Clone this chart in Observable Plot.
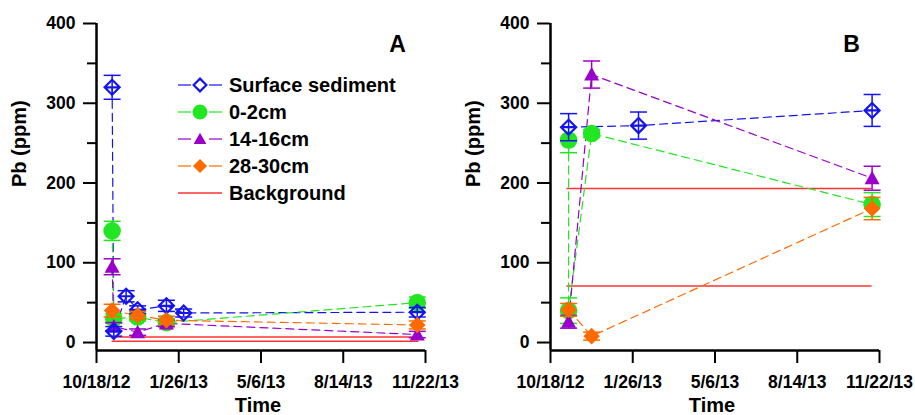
<!DOCTYPE html>
<html><head><meta charset="utf-8">
<script src="https://cdn.jsdelivr.net/npm/d3@7"></script>
<script src="https://cdn.jsdelivr.net/npm/@observablehq/plot@0.6"></script>
<style>
html,body{margin:0;padding:0;background:#fff;}
#wrap{display:flex;width:915px;height:415px;overflow:hidden;position:relative;}
#wrap svg{flex:none;overflow:visible;}
#wrap svg:first-child{position:relative;z-index:2;}
</style></head><body><div id="wrap"></div>
<script>
// ---------- shared ----------
const seriesNames = ["Surface sediment", "0-2cm", "14-16cm", "28-30cm", "Background"];
const seriesColors = ["#1414ee", "#22e622", "#9a00cc", "#ff6a00", "#ff3333"];
const tickDates = ["10/18/12", "1/26/13", "5/6/13", "8/14/13", "11/22/13"];
const yTicks = [0, 100, 200, 300, 400];
const yMinorTicks = [50, 150, 250, 350];
const yLabel = "Pb (ppm)";
const xLabel = "Time";

// ---------- panel A ----------
const aSurfDates = ["11/6/12", "11/8/12", "11/23/12", "12/7/12", "1/11/13", "2/1/13", "11/12/13"];
const aSurfPb    = [320, 14, 58, 41, 46, 37, 38];
const aSurfErr   = [15, 6, 7, 5, 7, 5, 6];
const aTop2Dates = ["11/6/12", "11/8/12", "12/7/12", "1/11/13", "11/12/13"];
const aTop2Pb    = [140, 30, 32, 25, 50];
const aTop2Err   = [12, 6, 5, 5, 7];
const aMid14Dates = ["11/6/12", "11/8/12", "12/7/12", "1/11/13", "11/12/13"];
const aMid14Pb    = [95, 20, 13, 24, 10];
const aMid14Err   = [10, 5, 4, 4, 4];
const aDeep28Dates = ["11/6/12", "12/7/12", "1/11/13", "11/12/13"];
const aDeep28Pb    = [40, 34, 28, 22];
const aDeep28Err   = [8, 5, 5, 5];
const aBackground  = [7, 1.5];
const aBgSpan      = ["11/6/12", "11/14/13"];

// ---------- panel B ----------
const bSurfDates = ["11/9/12", "2/2/13", "11/13/13"];
const bSurfPb    = [270, 272, 291];
const bSurfErr   = [17, 17, 20];
const bTop2Dates = ["11/9/12", "11/9/12", "12/7/12", "11/13/13"];
const bTop2Pb    = [254, 40, 262, 173];
const bTop2Err   = [16, 16, 5, 15];
const bMid14Dates = ["11/9/12", "12/7/12", "11/13/13"];
const bMid14Pb    = [26, 336, 206];
const bMid14Err   = [8, 17, 15];
const bDeep28Dates = ["11/9/12", "12/7/12", "11/13/13"];
const bDeep28Pb    = [41, 8, 168];
const bDeep28Err   = [8, 5, 14];
const bBackground  = [193, 71];
const bBgSpan      = ["11/7/12", "11/13/13"];

// ---------- helpers ----------
const parse = d3.utcParse("%m/%d/%y");
const fmt = d3.utcFormat("%-m/%-d/%y");
const FONT = "'Liberation Sans', Arial, Helvetica, sans-serif";

function rows(dates, pb, err) {
  return dates.map((d, i) => ({date: parse(d), pb: pb[i], err: err[i]}));
}
// custom symbols (size = r^2*pi)
const rad = s => Math.sqrt(s / Math.PI);
const symDiamondPlus = {draw(c, s) { const r = rad(s); c.moveTo(0, -r); c.lineTo(r, 0); c.lineTo(0, r); c.lineTo(-r, 0); c.closePath(); c.moveTo(-r, 0); c.lineTo(r, 0); }};
const symDiamond = {draw(c, s) { const r = rad(s); c.moveTo(0, -r); c.lineTo(r, 0); c.lineTo(0, r); c.lineTo(-r, 0); c.closePath(); }};
const symTriangle = {draw(c, s) { const r = rad(s); c.moveTo(0, -r); c.lineTo(r, 0.8 * r); c.lineTo(-r, 0.8 * r); c.closePath(); }};
const symCap = {draw(c, s) { const r = rad(s); c.moveTo(-r, 0); c.lineTo(r, 0); }};

const markerSpec = [
  {symbol: symDiamondPlus, r: 7.5, fill: "none", strokeWidth: 2.2},
  {symbol: "circle", r: 8.8, fill: true, strokeWidth: 0},
  {symbol: symTriangle, r: 7.5, fill: true, strokeWidth: 0},
  {symbol: symDiamond, r: 8.3, fill: true, strokeWidth: 0}
];
const drawOrder = [1, 2, 0, 3];

function makePanel(cfg) {
  const series = cfg.series;
  const marks = [];
  marks.push(Plot.ruleY(cfg.background, {x1: parse(cfg.bgSpan[0]), x2: parse(cfg.bgSpan[1]), stroke: seriesColors[4], strokeWidth: 1.5}));
  series.forEach((s, i) => marks.push(Plot.line(s, {x: "date", y: "pb", stroke: seriesColors[i], strokeWidth: 1.2, strokeDasharray: "8,5", curve: "linear"})));
  drawOrder.forEach(i => {
    const s = series[i], col = seriesColors[i], m = markerSpec[i];
    marks.push(Plot.ruleX(s, {x: "date", y1: d => d.pb - d.err, y2: d => d.pb + d.err, stroke: col, strokeWidth: 1.5}));
    marks.push(Plot.dot(s, {x: "date", y: d => d.pb + d.err, symbol: symCap, r: 8.5, stroke: col, strokeWidth: 1.5}));
    marks.push(Plot.dot(s, {x: "date", y: d => d.pb - d.err, symbol: symCap, r: 8.5, stroke: col, strokeWidth: 1.5}));
    marks.push(Plot.dot(s, {x: "date", y: "pb", symbol: m.symbol, r: m.r, fill: m.fill === true ? col : "none", stroke: m.strokeWidth ? col : "none", strokeWidth: m.strokeWidth}));
  });
  marks.push(Plot.axisY({ticks: yMinorTicks, tickSize: 9, tickFormat: () => "", strokeWidth: 2, label: null}));
  marks.push(Plot.axisY({ticks: yTicks, tickSize: 13, tickPadding: 8, strokeWidth: 2, label: null, fontSize: 17.5, fontWeight: "bold", fill: "#000"}));
  marks.push(Plot.axisX({ticks: tickDates.map(parse), tickFormat: fmt, tickSize: 13, tickPadding: 12, strokeWidth: 2, label: null, fontSize: 17.5, fontWeight: "bold", fill: "#000"}));
  marks.push(Plot.ruleX([parse(tickDates[0])], {stroke: "#000", strokeWidth: 2.5}));
  marks.push(Plot.ruleY([-10], {stroke: "#000", strokeWidth: 2.5}));
  marks.push(Plot.text([yLabel], {text: d => d, frameAnchor: "left", lineAnchor: "middle", dx: -77, rotate: -90, fontSize: 20, fontWeight: "bold", fill: "#000"}));
  marks.push(Plot.text([xLabel], {text: d => d, frameAnchor: "bottom", lineAnchor: "middle", dx: -3, dy: 55, fontSize: 20, fontWeight: "bold", fill: "#000"}));
  marks.push(Plot.text([cfg.letter], {text: d => d, frameAnchor: "top-right", lineAnchor: "middle", textAnchor: "middle", dx: -28, dy: 21, fontSize: 23, fontWeight: "bold", fill: "#000"}));

  return Plot.plot({
    width: cfg.width, height: 415,
    marginLeft: cfg.marginLeft, marginRight: cfg.marginRight, marginTop: 23, marginBottom: 65,
    style: {fontFamily: FONT, fontWeight: "bold", fontSize: "17.5px", color: "#000", background: "transparent", overflow: "visible"},
    x: {type: "utc", domain: [parse(tickDates[0]), parse(tickDates[tickDates.length - 1])]},
    y: {domain: [-10, 400]},
    marks
  });
}

const panelA = makePanel({
  width: 455, marginLeft: 96, marginRight: 30, letter: "A",
  series: [rows(aSurfDates, aSurfPb, aSurfErr), rows(aTop2Dates, aTop2Pb, aTop2Err), rows(aMid14Dates, aMid14Pb, aMid14Err), rows(aDeep28Dates, aDeep28Pb, aDeep28Err)],
  background: aBackground, bgSpan: aBgSpan
});
const panelB = makePanel({
  width: 460, marginLeft: 95, marginRight: 36, letter: "B",
  series: [rows(bSurfDates, bSurfPb, bSurfErr), rows(bTop2Dates, bTop2Pb, bTop2Err), rows(bMid14Dates, bMid14Pb, bMid14Err), rows(bDeep28Dates, bDeep28Pb, bDeep28Err)],
  background: bBackground, bgSpan: bBgSpan
});
const wrap = document.getElementById("wrap");
wrap.appendChild(panelA);
wrap.appendChild(panelB);

// ---------- legend inside panel A ----------
const lg = d3.select(panelA).append("g").attr("transform", "translate(178,85)").attr("text-anchor", "start");
const rowGap = 27;
seriesNames.forEach((name, i) => {
  const g = lg.append("g").attr("transform", `translate(0,${i * rowGap})`);
  const col = seriesColors[i];
  if (i < 4) {
    g.append("line").attr("x1", 0).attr("x2", 13).attr("y1", 0).attr("y2", 0).attr("stroke", col).attr("stroke-width", 1.2);
    g.append("line").attr("x1", 31).attr("x2", 44).attr("y1", 0).attr("y2", 0).attr("stroke", col).attr("stroke-width", 1.2);
    const m = markerSpec[i];
    const size = Math.PI * Math.pow(m.r * 0.85, 2);
    const sym = typeof m.symbol === "string" ? d3.symbolCircle : (m.symbol === symDiamondPlus ? symDiamond : m.symbol);
    g.append("path").attr("transform", "translate(22,0)").attr("d", d3.symbol(sym, size)())
      .attr("fill", m.fill === true ? col : "none").attr("stroke", m.strokeWidth ? col : "none").attr("stroke-width", m.strokeWidth || 0);
  } else {
    g.append("line").attr("x1", 0).attr("x2", 44).attr("y1", 0).attr("y2", 0).attr("stroke", col).attr("stroke-width", 1.5);
  }
  g.append("text").attr("x", 51).attr("y", 0).attr("dy", "0.36em").attr("text-anchor", "start")
    .attr("font-size", 20).attr("font-weight", "bold")
    .attr("font-family", FONT).attr("fill", "#000").text(name);
});
</script>
</body></html>
